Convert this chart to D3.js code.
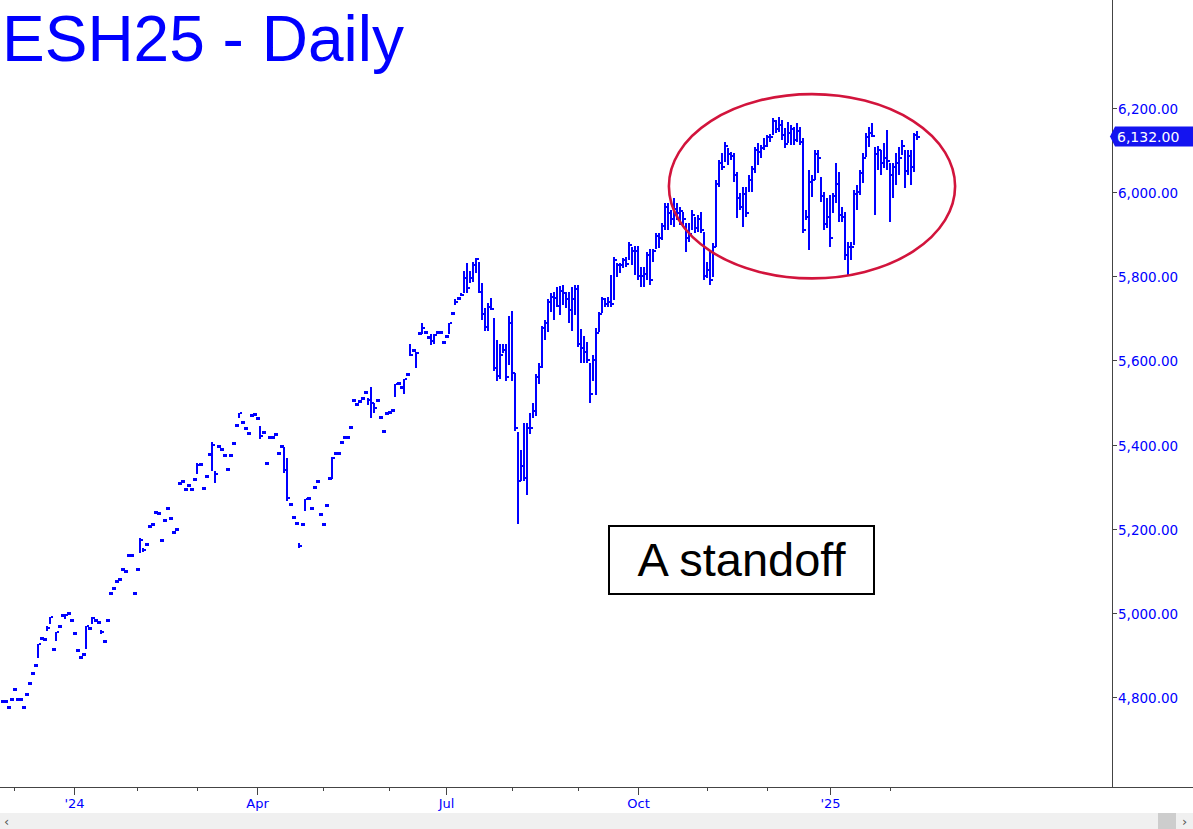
<!DOCTYPE html>
<html>
<head>
<meta charset="utf-8">
<script src="https://cdn.jsdelivr.net/npm/d3@7/dist/d3.min.js"></script>
<style>
  html, body { margin: 0; padding: 0; background: #fff; }
  svg { display: block; }
</style>
</head>
<body>
<svg id="chart" width="1193" height="829"></svg>
<script>
// ---------------- DATA ----------------
const title = "ESH25 - Daily";
const annotationText = "A standoff";
const startDate = "2023-11-27";
const holidays = ["2023-12-25","2024-01-01","2024-01-15","2024-02-19","2024-03-29","2024-05-27",
  "2024-06-19","2024-07-04","2024-09-02","2024-11-28","2024-12-25","2025-01-01","2025-01-09","2025-01-20"];
const yTicks = [4800, 5000, 5200, 5400, 5600, 5800, 6000, 6200];
const lastPrice = 6132;

const highs = [
  4790,4790,4776,4795,
  4817,4795,4793,4774,4807,4833,4855,4874,4926,4938,4936,4969,4990,4912,4955,4967,4993,4998,4998,4983,
  4950,4910,4895,4902,4969,4962,4990,4981,4976,4960,4933,4981,5045,5059,5074,5079,5102,5098,5136,5136,5045,
  5102,5179,5155,5162,5205,5210,5238,5236,5171,5219,5248,5224,5190,5198,5307,5312,5293,5302,5293,5317,
  5357,5352,5295,5324,5376,5405,5336,5395,5388,5374,5340,5374,5402,5445,5476,5452,5438,5426,5469,5471,
  5462,5445,5429,5355,5417,5417,5424,5379,5395,5395,5369,5257,5226,5212,5167,5210,5271,5271,5248,5298,5312,5233,
  5210,5255,5319,5371,5379,5379,5405,5417,5417,5440,5505,5495,5502,5510,5524,5510,5538,5500,5505,5464,5431,5474,
  5476,5481,5545,5545,5536,5557,5567,5638,5624,5619,5664,5688,5667,5657,5664,5664,5667,5667,5645,
  5657,5690,5712,5745,5750,5760,5812,5831,5812,5833,5843,5833,5783,5724,5736,5748,5702,5648,5640,5640,5640,5705,
  5717,5569,5429,5386,5452,5452,5474,5500,5567,5593,5683,5695,5745,5760,5762,5774,5776,5779,5762,5762,5774,5779,
  5779,5674,5657,5643,5593,5612,5676,5714,5750,5748,5750,5802,5845,5831,5831,5843,5845,5881,5869,5871,
  5871,5821,5821,5857,5864,5864,5902,5902,5926,5974,5974,5957,5986,5974,5964,5952,5926,5926,5957,5940,5945,5952,5905,
  5833,5862,5879,6029,6076,6093,6119,6105,6095,6093,6048,5998,6012,6012,6040,6062,6107,6117,6112,6129,
  6136,6138,6176,6171,6179,6171,6152,6167,6160,6155,6164,6155,6129,5957,6052,6040,6100,6100,6036,6000,5986,
  5993,5998,6069,6048,5964,5952,5881,5881,6005,6017,6052,6093,6140,6155,6164,6107,6110,6100,6117,6148,
  6069,6069,6093,6107,6124,6100,6100,6100,6140,6145
];
const lows = [
  4790,4790,4776,4795,
  4817,4795,4793,4774,4807,4833,4855,4874,4893,4938,4936,4957,4974,4912,4933,4967,4993,4986,4998,4983,
  4950,4910,4895,4902,4914,4962,4974,4981,4976,4950,4933,4981,5045,5059,5074,5079,5102,5098,5136,5136,5045,
  5102,5143,5145,5162,5205,5210,5238,5236,5171,5219,5248,5224,5190,5198,5307,5312,5293,5302,5293,5317,
  5331,5352,5295,5324,5376,5338,5309,5395,5388,5374,5340,5374,5402,5445,5462,5452,5438,5426,5469,5471,
  5462,5414,5429,5355,5417,5417,5424,5379,5395,5333,5267,5257,5226,5212,5155,5210,5243,5271,5248,5298,5312,5233,
  5210,5255,5319,5319,5379,5379,5405,5417,5417,5440,5505,5495,5502,5510,5524,5493,5462,5476,5505,5464,5431,5474,
  5476,5481,5512,5545,5536,5521,5567,5610,5624,5581,5664,5664,5667,5652,5636,5640,5667,5667,5638,
  5657,5664,5712,5731,5743,5752,5760,5760,5783,5786,5807,5760,5695,5671,5671,5719,5576,5552,5557,5617,5552,5588,
  5552,5433,5212,5314,5314,5281,5426,5464,5469,5545,5583,5648,5667,5714,5695,5726,5707,5731,5724,5688,5671,5707,
  5631,5595,5595,5593,5498,5552,5517,5667,5712,5726,5726,5726,5743,5798,5807,5819,5821,5838,5826,5802,
  5790,5774,5774,5790,5779,5833,5864,5867,5886,5910,5910,5921,5917,5933,5921,5917,5857,5881,5910,5902,5905,5902,5790,
  5795,5779,5798,5869,6012,6052,6071,6064,6076,6024,5938,5957,5917,5940,6000,6000,6045,6064,6081,6100,
  6107,6119,6136,6140,6143,6124,6105,6117,6112,6112,6119,6112,5902,5933,5862,5988,6029,6045,5976,5910,5914,
  5869,5950,5974,5929,5929,5838,5802,5838,5874,5957,5993,6021,6083,6107,6131,5945,6052,6040,6057,6052,
  5929,5986,6017,6040,6088,6010,6040,6017,6048,6124
];
const closes = [
  4790,4790,4776,4795,
  4817,4795,4793,4774,4807,4833,4855,4874,4926,4938,4936,4964,4990,4912,4955,4967,4993,4995,4998,4983,
  4950,4910,4895,4902,4969,4962,4988,4981,4976,4955,4933,4981,5045,5059,5074,5079,5102,5098,5136,5136,5045,
  5102,5172,5150,5162,5205,5210,5238,5236,5171,5219,5248,5224,5190,5198,5307,5312,5293,5302,5293,5317,
  5352,5352,5295,5324,5376,5398,5331,5395,5388,5374,5340,5374,5402,5445,5476,5452,5438,5426,5469,5471,
  5462,5420,5429,5355,5417,5417,5424,5379,5395,5340,5272,5257,5226,5212,5160,5210,5271,5271,5248,5298,5312,5233,
  5210,5255,5319,5369,5379,5379,5405,5417,5417,5440,5505,5495,5502,5510,5524,5505,5498,5488,5505,5464,5431,5474,
  5476,5481,5543,5545,5536,5555,5567,5612,5624,5617,5664,5676,5667,5655,5645,5660,5667,5667,5640,
  5657,5688,5712,5740,5745,5755,5795,5771,5795,5826,5840,5762,5710,5680,5726,5722,5583,5562,5612,5624,5560,5690,
  5570,5440,5314,5350,5320,5440,5440,5480,5560,5585,5676,5690,5740,5750,5748,5730,5765,5760,5745,5720,5745,5770,
  5638,5630,5620,5600,5520,5600,5665,5710,5745,5735,5740,5735,5838,5826,5826,5838,5830,5874,5860,5860,
  5800,5800,5805,5850,5790,5860,5895,5890,5920,5965,5950,5935,5960,5950,5955,5935,5890,5900,5945,5915,5935,5910,5800,
  5815,5790,5870,6020,6070,6060,6110,6090,6085,6040,5985,5965,5995,5950,6030,6055,6100,6095,6105,6110,
  6130,6130,6170,6150,6160,6135,6115,6140,6150,6125,6145,6120,5910,5940,6025,6030,6090,6080,5990,5925,5940,
  5890,5990,6020,5945,5940,5850,5870,5870,5995,6000,6045,6080,6130,6140,6133,6090,6100,6070,6080,6075,
  6040,6060,6070,6080,6110,6050,6085,6060,6135,6132
];

// ------------- BUILD -------------
const n = Math.min(highs.length, lows.length, closes.length);
const holidaySet = new Set(holidays);
const fmtDay = d3.timeFormat("%Y-%m-%d");
const dates = [];
let d = d3.timeParse("%Y-%m-%d")(startDate);
while (dates.length < n) {
  const wd = d.getDay();
  if (wd !== 0 && wd !== 6 && !holidaySet.has(fmtDay(d))) dates.push(new Date(d));
  d = d3.timeDay.offset(d, 1);
}
const bars = d3.range(n).map(i => ({ i, date: dates[i], h: highs[i], l: lows[i], c: closes[i] }));

const W = 1193, H = 829;
const axisX = 1112, axisY = 787;
const svg = d3.select("#chart");
const BLUE = "#0000ff";

const x = d3.scaleLinear().domain([0, 305]).range([2, 917]);
const y = d3.scaleLinear().domain([4800, 6200]).range([697, 108]);

// title
svg.append("text").attr("x", 2).attr("y", 61)
  .attr("font-family", "Liberation Sans, Arial, sans-serif").attr("font-size", 64)
  .attr("fill", BLUE).text(title);

// axes lines
svg.append("line").attr("x1", axisX + 0.5).attr("x2", axisX + 0.5).attr("y1", 0).attr("y2", axisY)
  .attr("stroke", "#444").attr("stroke-width", 1);
svg.append("line").attr("x1", 0).attr("x2", W).attr("y1", axisY + 0.5).attr("y2", axisY + 0.5)
  .attr("stroke", "#444").attr("stroke-width", 1);

// y ticks & labels
const fmt = d3.format(",.2f");
const yg = svg.append("g");
yTicks.forEach(v => {
  const yy = Math.round(y(v)) + 0.5;
  yg.append("line").attr("x1", axisX).attr("x2", axisX + 5).attr("y1", yy).attr("y2", yy).attr("stroke", "#444");
  yg.append("text").attr("x", axisX + 6).attr("y", yy + 5)
    .attr("font-family", "DejaVu Sans, Verdana, sans-serif").attr("font-size", 13.5)
    .attr("fill", BLUE).text(fmt(v));
});

// month ticks
const monthStarts = [];
bars.forEach((b, k) => {
  if (k === 0 || b.date.getMonth() !== bars[k - 1].date.getMonth()) {
    if (k === 0 && b.date.getDate() > 7) return;
    monthStarts.push(b);
  }
});
const xg = svg.append("g");
monthStarts.forEach(b => {
  const m = b.date.getMonth();
  const major = (m % 3 === 0);
  const xx = Math.round(x(b.i)) + 0.5;
  xg.append("line").attr("x1", xx).attr("x2", xx).attr("y1", axisY).attr("y2", axisY + (major ? 8 : 4))
    .attr("stroke", "#444");
  if (major) {
    const lab = m === 0 ? "'" + String(b.date.getFullYear()).slice(2) : d3.timeFormat("%b")(b.date);
    xg.append("text").attr("x", xx).attr("y", axisY + 21).attr("text-anchor", "middle")
      .attr("font-family", "DejaVu Sans, Verdana, sans-serif").attr("font-size", 13)
      .attr("fill", BLUE).text(lab);
  }
});

// bars (HLC)
const bg = svg.append("g").attr("fill", BLUE).attr("shape-rendering", "crispEdges");
bars.forEach(b => {
  const xx = Math.round(x(b.i));
  let top = y(b.h), bot = y(b.l);
  const flat = (bot - top < 3);
  if (flat) { const mid = (top + bot) / 2; top = mid - 1.5; bot = mid + 1.5; }
  const t = Math.round(top), hgt = Math.max(3, Math.round(bot) - t);
  bg.append("rect").attr("x", xx - 1).attr("y", t).attr("width", 2).attr("height", hgt);
  if (flat) {
    bg.append("rect").attr("x", xx + 1).attr("y", t).attr("width", 2).attr("height", 3);
  } else {
    bg.append("rect").attr("x", xx + 1).attr("y", Math.round(y(b.c)) - 1).attr("width", 2).attr("height", 2);
  }
});

// ellipse annotation (in data terms)
const eCenterIdx = 270, eCenterPrice = 6014, eHalfBars = 47.7, eHalfPts = 219;
svg.append("ellipse")
  .attr("cx", x(eCenterIdx)).attr("cy", y(eCenterPrice))
  .attr("rx", x(eCenterIdx + eHalfBars) - x(eCenterIdx))
  .attr("ry", y(eCenterPrice - eHalfPts) - y(eCenterPrice))
  .attr("fill", "none").attr("stroke", "#d2143c").attr("stroke-width", 2.6);

// text box
svg.append("rect").attr("x", 609).attr("y", 526).attr("width", 265).attr("height", 68)
  .attr("fill", "#fff").attr("stroke", "#000").attr("stroke-width", 2);
svg.append("text").attr("x", 741.5).attr("y", 576).attr("text-anchor", "middle")
  .attr("font-family", "Liberation Sans, Arial, sans-serif").attr("font-size", 47)
  .attr("fill", "#000").text(annotationText);

// last price label
const ly = y(lastPrice);
svg.append("path")
  .attr("d", `M${axisX - 2},${ly} L${axisX + 3},${ly - 10} L${W},${ly - 10} L${W},${ly + 10} L${axisX + 3},${ly + 10} Z`)
  .attr("fill", "#1414f0");
svg.append("text").attr("x", axisX + 5).attr("y", ly + 5)
  .attr("font-family", "DejaVu Sans, Verdana, sans-serif").attr("font-size", 14)
  .attr("fill", "#fff").text(fmt(lastPrice));

// scrollbar
svg.append("rect").attr("x", 0).attr("y", 813).attr("width", W).attr("height", 16).attr("fill", "#f0f0f0");
svg.append("rect").attr("x", 1158).attr("y", 813).attr("width", 18).attr("height", 16).attr("fill", "#cdcdcd");
svg.append("text").attr("x", 4).attr("y", 826).attr("font-family", "DejaVu Sans").attr("font-size", 13)
  .attr("fill", "#555").text("‹");
svg.append("text").attr("x", 1182).attr("y", 826).attr("font-family", "DejaVu Sans").attr("font-size", 13)
  .attr("fill", "#555").text("›");
</script>
</body>
</html>
